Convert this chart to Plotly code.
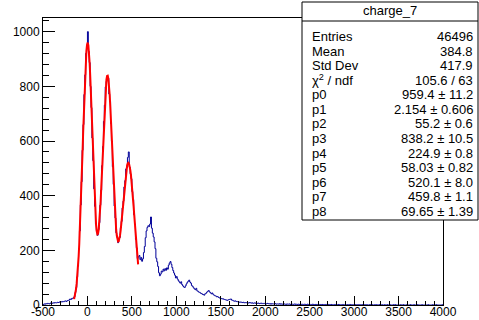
import numpy as np
import plotly.graph_objects as go

# ---- histogram charge_7: 450 bins of width 10 over [-500, 4000] ----
x_lo, x_hi = -500.0, 4000.0
counts = [
    2, 4, 3, 5, 4, 6, 5, 4, 7, 6,                 # -500
    6, 8, 7, 9, 8, 8, 10, 9, 11, 10,              # -400
    12, 11, 13, 12, 14, 15, 13, 16, 17, 18,       # -300
    22, 20, 24, 23, 28, 30, 46, 64, 103, 142,     # -200
    206, 271, 366, 451, 566, 660, 770, 842, 921, 948,   # -100
    1000, 928, 887, 800, 722, 611, 528, 425, 361, 296,  # 0
    272, 255, 276, 301, 365, 420, 510, 580, 672, 731,   # 100
    798, 818, 835, 830, 772, 746, 664, 600, 506, 441,   # 200
    362, 318, 264, 248, 228, 240, 247, 283, 306, 355,   # 300
    380, 432, 455, 498, 503, 540, 560, 505, 480, 462,   # 400
    415, 386, 330, 296, 240, 209, 170, 176, 181, 166,   # 500
    174, 160, 169, 192, 214, 246, 271, 284, 290, 287,   # 600
    296, 322, 281, 263, 249, 231, 206, 171, 158, 141,   # 700
    118, 107, 113, 124, 121, 131, 125, 133, 127, 136,   # 800
    131, 146, 154, 159, 149, 137, 126, 117, 109, 99,    # 900
    104, 95, 89, 84, 80, 85, 75, 70, 66, 64,            # 1000
    70, 77, 83, 87, 91, 84, 80, 71, 68, 63,             # 1100
    59, 56, 61, 52, 50, 47, 46, 43, 42, 39,             # 1200
    38, 36, 41, 43, 47, 50, 53, 48, 45, 41,             # 1300
    44, 39, 36, 34, 33, 30, 31, 28, 26, 25,             # 1400
    24, 22, 23, 21, 20, 19, 18, 17, 19, 20,             # 1500
    21, 22, 18, 17, 15, 14, 15, 13, 12, 13,             # 1600
    11, 10, 11, 10, 9, 10, 8, 9, 8, 9,                  # 1700
    8, 7, 9, 8, 7, 8, 6, 7, 8, 6,                       # 1800
    7, 6, 7, 5, 6, 7, 5, 6, 5, 6,                       # 1900
    5, 4, 6, 5, 4, 5, 3, 5, 4, 4,                       # 2000
    4, 5, 3, 4, 4, 3, 5, 3, 4, 3,                       # 2100
    3, 4, 3, 2, 4, 3, 3, 4, 2, 3,                       # 2200
    3, 2, 3, 4, 2, 3, 2, 3, 2, 3,                       # 2300
    2, 3, 2, 2, 3, 2, 1, 3, 2, 2,                       # 2400
    2, 2, 1, 3, 2, 1, 2, 2, 1, 2,                       # 2500
    2, 1, 2, 1, 2, 1, 1, 2, 1, 2,                       # 2600
    1, 2, 1, 1, 2, 1, 1, 1, 2, 1,                       # 2700
    1, 1, 2, 1, 0, 1, 1, 2, 1, 1,                       # 2800
    1, 0, 1, 1, 1, 2, 0, 1, 1, 0,                       # 2900
    1, 1, 0, 1, 1, 0, 1, 1, 0, 1,                       # 3000
    0, 1, 1, 0, 1, 0, 0, 1, 1, 0,                       # 3100
    1, 0, 0, 1, 0, 1, 0, 0, 1, 0,                       # 3200
    0, 1, 0, 0, 1, 0, 0, 1, 0, 0,                       # 3300
    1, 0, 0, 0, 1, 0, 1, 0, 0, 0,                       # 3400
    0, 0, 1, 0, 0, 1, 0, 0, 0, 1,                       # 3500
    0, 0, 0, 1, 0, 0, 0, 1, 0, 0,                       # 3600
    0, 1, 0, 0, 0, 0, 1, 0, 0, 0,                       # 3700
    0, 0, 0, 1, 0, 0, 0, 0, 1, 0,                       # 3800
    0, 0, 1, 0, 0, 0, 0, 0, 0, 1,                       # 3900
]

# ---- triple-Gaussian fit result ----
fit_par = [959.4, 2.154, 55.2, 838.2, 224.9, 58.03, 520.1, 459.8, 69.65]
fit_lo, fit_hi = -150.0, 570.0

# ---- statistics box ----
hist_name = "charge_7"
stat_names = ["Entries", "Mean", "Std Dev", "\u03c7<sup>2</sup> / ndf",
              "p0", "p1", "p2", "p3", "p4", "p5", "p6", "p7", "p8"]
stat_values = ["46496", "384.8", "417.9", "105.6 / 63",
               "959.4 \u00b1 11.2", "2.154 \u00b1 0.606", "55.2 \u00b1 0.6",
               "838.2 \u00b1 10.5", "224.9 \u00b1 0.8", "58.03 \u00b1 0.82",
               "520.1 \u00b1 8.0", "459.8 \u00b1 1.1", "69.65 \u00b1 1.39"]

x_ticks = list(range(-500, 4001, 500))
y_ticks = list(range(0, 1001, 200))

# ------------------------------------------------------------------
n_bins = len(counts)
edges = np.linspace(x_lo, x_hi, n_bins + 1)
step_y = list(counts) + [counts[-1]]


def three_gaus(x, p):
    y = np.zeros_like(x)
    for i in range(3):
        a, m, s = p[3 * i:3 * i + 3]
        y = y + a * np.exp(-0.5 * ((x - m) / s) ** 2)
    return y


xf = np.linspace(fit_lo, fit_hi, 100)
yf = three_gaus(xf, fit_par)

W, H = 479, 320
ml, mr, mt, mb = 43, 36, 18, 15
pw, ph = W - ml - mr, H - mt - mb


def px2x(px):
    return (px - ml) / pw


def py2y(py):
    return (H - mb - py) / ph


font_family = "Liberation Sans, Arial, Helvetica, sans-serif"

fig = go.Figure()
fig.add_trace(go.Scatter(x=edges, y=step_y, mode="lines",
                         line=dict(color="#000099", width=1, shape="hv"),
                         hoverinfo="skip", showlegend=False))
fig.add_trace(go.Scatter(x=xf, y=yf, mode="lines",
                         line=dict(color="#ff0000", width=2),
                         hoverinfo="skip", showlegend=False))

y_max = 1.05 * max(counts)

fig.update_layout(
    width=W, height=H,
    margin=dict(l=ml, r=mr, t=mt, b=mb, pad=0, autoexpand=False),
    paper_bgcolor="white", plot_bgcolor="white",
    font=dict(family=font_family, size=12, color="black"),
    xaxis=dict(range=[x_lo, x_hi], showgrid=False, zeroline=False,
               automargin=False,
               showline=True, linecolor="black", linewidth=1, mirror=True,
               ticks="inside", ticklen=9, tickwidth=1, tickcolor="black",
               tickvals=x_ticks, ticktext=[str(v) for v in x_ticks],
               tickfont=dict(size=12), ticklabelstandoff=-4,
               minor=dict(ticks="inside", ticklen=4, dtick=100, tick0=-500,
                          tickcolor="black", tickwidth=1)),
    yaxis=dict(range=[0, y_max], showgrid=False, zeroline=False,
               automargin=False,
               showline=True, linecolor="black", linewidth=1, mirror=True,
               ticks="inside", ticklen=12, tickwidth=1, tickcolor="black",
               tickvals=y_ticks, ticktext=[str(v) for v in y_ticks],
               tickfont=dict(size=12),
               minor=dict(ticks="inside", ticklen=6, dtick=40, tick0=0,
                          tickcolor="black", tickwidth=1)),
)

# stats box
box_l, box_r, box_t, box_b = 302, 478, 2, 220
sep_y = 21
shapes = [
    dict(type="rect", xref="paper", yref="paper",
         x0=px2x(box_l), x1=px2x(box_r), y0=py2y(box_b), y1=py2y(box_t),
         fillcolor="white", line=dict(color="black", width=1), layer="above"),
    dict(type="line", xref="paper", yref="paper",
         x0=px2x(box_l), x1=px2x(box_r), y0=py2y(sep_y), y1=py2y(sep_y),
         line=dict(color="black", width=1), layer="above"),
]
fig.update_layout(shapes=shapes)

anns = [dict(xref="paper", yref="paper", x=px2x((box_l + box_r) / 2),
             y=py2y(11), text=hist_name, showarrow=False,
             xanchor="center", yanchor="middle", font=dict(size=13))]
row0, drow = 36.5, 14.58
for i, (nm, val) in enumerate(zip(stat_names, stat_values)):
    yy = py2y(row0 + i * drow)
    anns.append(dict(xref="paper", yref="paper", x=px2x(310), y=yy,
                     text=nm, showarrow=False, xanchor="left",
                     yanchor="middle", font=dict(size=13)))
    anns.append(dict(xref="paper", yref="paper", x=px2x(475), y=yy,
                     text=val, showarrow=False, xanchor="right",
                     yanchor="middle", font=dict(size=13)))
fig.update_layout(annotations=anns)

fig.write_html("out.html", config={"displayModeBar": False})
